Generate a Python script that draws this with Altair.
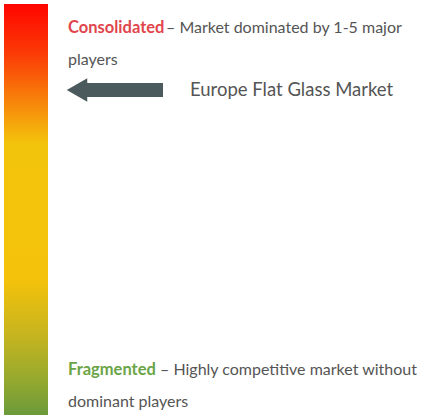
import altair as alt
import pandas as pd

W, H = 424, 419

# gradient bar (pixel frame)
bar_x = [4]; bar_x2 = [48]; bar_y = [4]; bar_y2 = [415]
grad_offsets = [0.0, 0.12, 0.24, 0.34, 0.67, 0.8, 0.9, 1.0]
grad_colors = ["#ff0500", "#fb3a06", "#f7860a", "#f3c40c", "#f4c20a", "#c8b51e", "#9cab2c", "#6b9a3b"]

# arrow
shaft_x = [80]; shaft_x2 = [163]; shaft_y = [83]; shaft_y2 = [97]
head_x = [77]; head_y = [90]

# texts
txt_x = [68, 166, 68, 190, 68, 160, 68]
txt_y = [28, 28, 60, 90, 370, 370, 402]
txt = ["Consolidated", "– Market dominated by 1-5 major", "players",
       "Europe Flat Glass Market", "Fragmented", " – Highly competitive market without",
       "dominant players"]
txt_kind = ["red", "gray", "gray", "title", "green", "gray", "gray"]

xs = alt.Scale(domain=[0, W])
ys = alt.Scale(domain=[H, 0])

bar_df = pd.DataFrame({"x": bar_x, "x2": bar_x2, "y": bar_y, "y2": bar_y2})
bar = alt.Chart(bar_df).mark_rect(
    fill={"gradient": "linear", "x1": 0, "y1": 0, "x2": 0, "y2": 1,
          "stops": [{"offset": o, "color": c} for o, c in zip(grad_offsets, grad_colors)]}
).encode(
    x=alt.X("x:Q", scale=xs, axis=None), x2="x2:Q",
    y=alt.Y("y:Q", scale=ys, axis=None), y2="y2:Q"
)

shaft_df = pd.DataFrame({"x": shaft_x, "x2": shaft_x2, "y": shaft_y, "y2": shaft_y2})
shaft = alt.Chart(shaft_df).mark_rect(color="#4b5a5d").encode(
    x=alt.X("x:Q", scale=xs, axis=None), x2="x2:Q",
    y=alt.Y("y:Q", scale=ys, axis=None), y2="y2:Q"
)

head_df = pd.DataFrame({"x": head_x, "y": head_y})
head = alt.Chart(head_df).mark_point(shape="triangle-left", filled=True, size=560,
                                      color="#4b5a5d", opacity=1).encode(
    x=alt.X("x:Q", scale=xs, axis=None),
    y=alt.Y("y:Q", scale=ys, axis=None)
)

tdf = pd.DataFrame({"x": txt_x, "y": txt_y, "t": txt, "k": txt_kind})

def tlayer(kind, **kw):
    return alt.Chart(tdf).transform_filter(alt.datum.k == kind).mark_text(
        align="left", baseline="middle", font="Lato", **kw
    ).encode(
        x=alt.X("x:Q", scale=xs, axis=None),
        y=alt.Y("y:Q", scale=ys, axis=None),
        text="t:N"
    )

t_red = tlayer("red", fontSize=16.5, fontWeight="bold", color="#e0454c")
t_green = tlayer("green", fontSize=16.5, fontWeight="bold", color="#6aa446")
t_gray = tlayer("gray", fontSize=16, color="#555555")
t_title = tlayer("title", fontSize=18.5, color="#555555")

chart = alt.layer(bar, shaft, head, t_red, t_green, t_gray, t_title).properties(
    width=W, height=H, padding=0, autosize="none", background="white"
).configure_view(stroke=None)

chart.save("out.html", embed_options={"renderer": "svg", "actions": False})
